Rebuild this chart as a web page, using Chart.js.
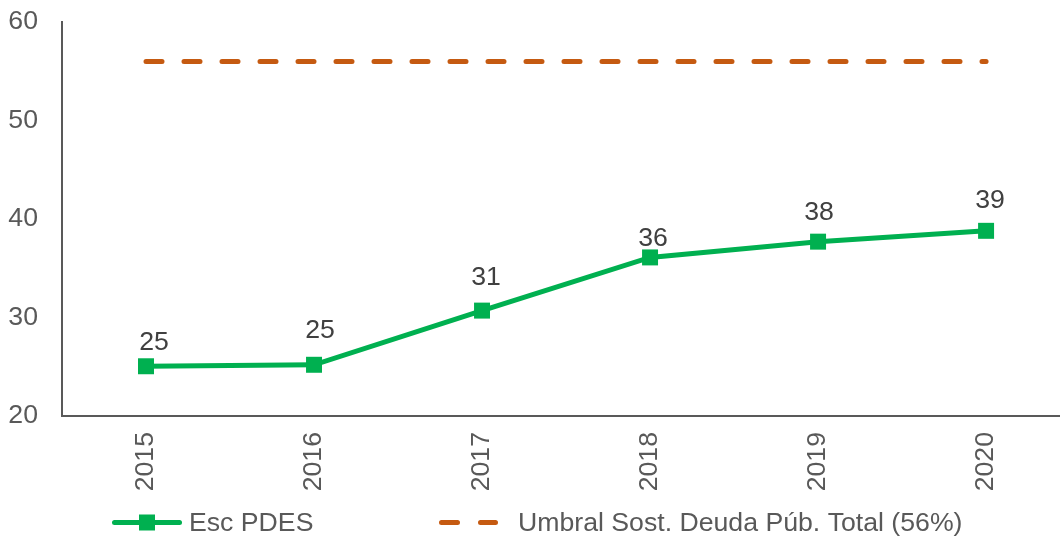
<!DOCTYPE html>
<html lang="es">
<head>
<meta charset="utf-8">
<title>Esc PDES vs Umbral de sostenibilidad</title>
<script src="https://cdn.jsdelivr.net/npm/chart.js@4/dist/chart.umd.min.js"></script>
<style>
  html, body { margin: 0; padding: 0; background: #ffffff; overflow: hidden; }
  #chart { display: block; }
</style>
</head>
<body>
<canvas id="chart" width="1060" height="538"></canvas>
<script>
// Años del horizonte de proyección
const years = ['2015', '2016', '2017', '2018', '2019', '2020'];
// Deuda pública total, escenario PDES (% del PIB)
const escPdes = [25.05, 25.2, 30.7, 36.1, 37.7, 38.8];
// Umbral de sostenibilidad de la deuda pública total (% del PIB)
const umbral = [56, 56, 56, 56, 56, 56];
// Nombres de las series
const seriesNames = ['Esc PDES', 'Umbral Sost. Deuda Púb. Total (56%)'];

const GREEN = '#00B050';
const ORANGE = '#C55A11';
const AXIS = '#595959';
const TEXT = '#595959';
const FONT = "'Liberation Sans', Arial, sans-serif";
const FONT_SIZE = 26.67;

// Cada año se ubica en la posición de su índice en el eje X
const toPoints = (values) => values.map((v, i) => ({ x: i, y: v }));

// Etiquetas de valor sobre cada punto de la serie PDES
const valueLabels = {
  id: 'valueLabels',
  afterDatasetsDraw(chart, args, opts) {
    const meta = chart.getDatasetMeta(opts.datasetIndex);
    const data = chart.data.datasets[opts.datasetIndex].data;
    const ctx = chart.ctx;
    ctx.save();
    ctx.font = opts.size + 'px ' + FONT;
    ctx.fillStyle = opts.color;
    ctx.textAlign = 'center';
    ctx.textBaseline = 'middle';
    meta.data.forEach((pt, i) => {
      const dx = opts.dx[i] || 0;
      const dy = opts.dy[i] || 0;
      ctx.fillText(String(Math.round(data[i].y)), pt.x + dx, pt.y - dy);
    });
    ctx.restore();
  }
};

// Leyenda inferior con símbolos de línea
const bottomLegend = {
  id: 'bottomLegend',
  afterDraw(chart, args, opts) {
    const ctx = chart.ctx;
    const y = opts.y;
    const ds = chart.data.datasets;
    ctx.save();
    ctx.font = opts.size + 'px ' + FONT;
    ctx.textBaseline = 'middle';
    ctx.textAlign = 'left';
    ctx.lineWidth = 5;
    ctx.lineCap = 'round';

    // Serie PDES: línea con marcador cuadrado
    ctx.strokeStyle = ds[0].borderColor;
    ctx.beginPath();
    ctx.moveTo(114.5, y);
    ctx.lineTo(179.5, y);
    ctx.stroke();
    ctx.fillStyle = ds[0].borderColor;
    ctx.fillRect(147 - 8, y - 8, 16, 16);
    ctx.fillStyle = TEXT;
    ctx.fillText(ds[0].label, 189, y + 1);

    // Umbral: línea discontinua
    ctx.strokeStyle = ds[1].borderColor;
    ctx.beginPath();
    ctx.moveTo(441.5, y); ctx.lineTo(457.5, y);
    ctx.moveTo(480.5, y); ctx.lineTo(495.5, y);
    ctx.stroke();
    ctx.fillText(ds[1].label, 518, y + 1);
    ctx.restore();
  }
};

new Chart(document.getElementById('chart'), {
  type: 'line',
  data: {
    datasets: [
      {
        label: seriesNames[0],
        data: toPoints(escPdes),
        borderColor: GREEN,
        backgroundColor: GREEN,
        borderWidth: 5,
        tension: 0,
        pointStyle: 'rect',
        pointRadius: 11.3,
        pointHoverRadius: 11.3,
        pointBackgroundColor: GREEN,
        pointBorderWidth: 0,
        order: 0
      },
      {
        label: seriesNames[1],
        data: toPoints(umbral),
        borderColor: ORANGE,
        backgroundColor: ORANGE,
        borderWidth: 5,
        borderDash: [16, 22],
        borderCapStyle: 'round',
        pointRadius: 0,
        pointHoverRadius: 0,
        order: 1
      }
    ]
  },
  options: {
    responsive: false,
    maintainAspectRatio: false,
    animation: false,
    devicePixelRatio: 1,
    layout: { autoPadding: false, padding: { top: 22, right: 0, bottom: 46, left: 0 } },
    plugins: {
      legend: { display: false },
      tooltip: { enabled: false },
      valueLabels: {
        datasetIndex: 0,
        size: FONT_SIZE,
        color: '#404040',
        dx: [8, 6, 4, 3, 1, 4],
        dy: [24, 34, 33, 19, 29, 30]
      },
      bottomLegend: { y: 522.5, size: FONT_SIZE }
    },
    scales: {
      x: {
        type: 'linear',
        min: -0.5,
        max: 5.44,
        grid: { display: false, drawTicks: false },
        border: { display: true, color: AXIS, width: 2 },
        ticks: {
          color: TEXT,
          font: { family: FONT, size: FONT_SIZE },
          maxRotation: 90,
          minRotation: 90,
          padding: 16,
          callback: (value) => years[value]
        },
        afterBuildTicks(scale) {
          scale.ticks = years.map((_, i) => ({ value: i }));
        },
        afterFit(scale) {
          scale.height = 76;
          scale.paddingLeft = 0;
          scale.paddingRight = 0;
        }
      },
      y: {
        min: 20,
        max: 60,
        grid: { display: false, drawTicks: false },
        border: { display: true, color: AXIS, width: 2 },
        ticks: {
          stepSize: 10,
          color: TEXT,
          font: { family: FONT, size: FONT_SIZE },
          padding: 24
        },
        afterFit(scale) {
          scale.width = 62;
          scale.paddingTop = 0;
          scale.paddingBottom = 0;
        }
      }
    }
  },
  plugins: [valueLabels, bottomLegend]
});
</script>
</body>
</html>
